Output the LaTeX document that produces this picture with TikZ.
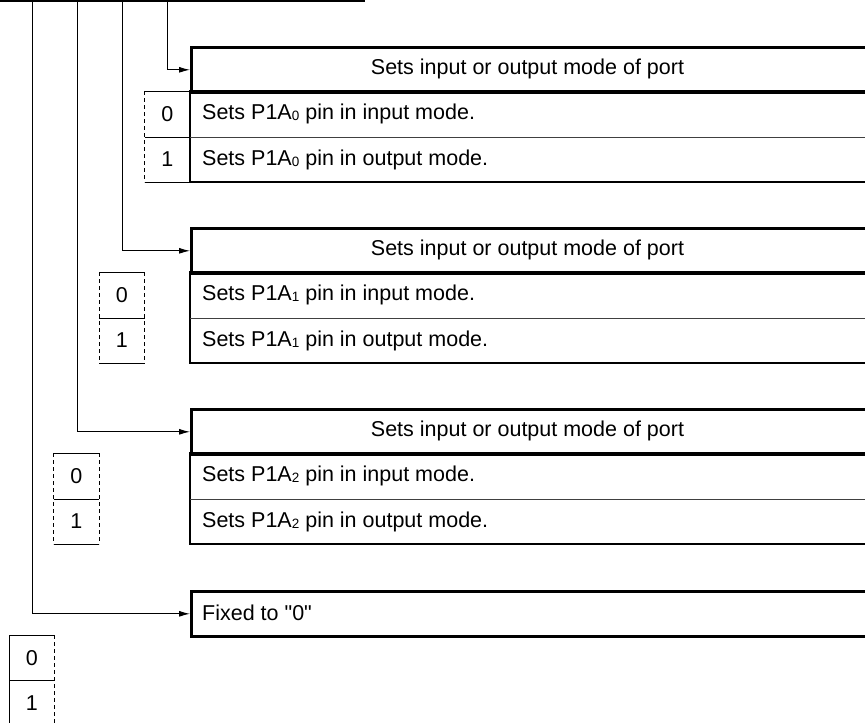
\documentclass[tikz,border=0pt]{standalone}
\usepackage{fontspec}
\setmainfont{Liberation Sans}
\usetikzlibrary{arrows.meta}

% subindice del pin
\newcommand\pinsub[1]{\raisebox{-1pt}{\fontsize{13.5}{13.5}\selectfont #1}}

\tikzset{
  frame/.style={line width=2.6pt},
  sepline/.style={line width=0.9pt,black!75},
  bitline/.style={line width=1pt},
  bitdash/.style={line width=1pt,dash pattern=on 4pt off 3pt},
  conn/.style={line width=1pt,-{Latex[length=11pt,width=6pt]}},
  txt/.style={inner sep=0pt,font=\fontsize{21.5}{25}\selectfont},
}

\begin{document}
\begin{tikzpicture}[x=1pt,y=-1pt]
\useasboundingbox (0,0) rectangle (865,723);

% Linea superior
\draw[line width=4pt] (0,0) -- (365,0);

% Tres bits de modo
\foreach \k/\vx/\ty/\bx in {0/167/46/144.5, 1/122/227/99, 2/77/408/53.5} {
    \pgfmathsetmacro{\ya}{\ty+45}
    \pgfmathsetmacro{\yb}{\ty+91}
    \pgfmathsetmacro{\yc}{\ty+136}
    \pgfmathsetmacro{\ra}{\ty+68}
    \pgfmathsetmacro{\rb}{\ty+113.5}
    \pgfmathsetmacro{\hc}{\ty+22.5}
    \pgfmathsetmacro{\bc}{\bx+22.75}
    \pgfmathsetmacro{\bd}{\bx+45.5}

    % Cabecera y filas
    \node[draw,frame,anchor=north west,minimum width=720pt,minimum height=45pt] (h\k) at (190,\ty) {};
    \node[txt] (t\k) at (527.5,\hc) {Sets input or output mode of port};
    \draw[frame] (190,\ya) rectangle (910,\yc);
    \draw[sepline] (190,\yb) -- (910,\yb);
    \node[txt,anchor=west] (r\k a) at (202,\ra) {Sets P1A\pinsub{\k} pin in input mode.};
    \node[txt,anchor=west] (r\k b) at (202,\rb) {Sets P1A\pinsub{\k} pin in output mode.};

    % Casilla del bit
    \draw[bitline] (\bx,\ya) -- (\bd,\ya);
    \draw[bitline] (\bx,\yb) -- (\bd,\yb);
    \draw[bitline] (\bx,\yc) -- (\bd,\yc);
    \draw[bitdash] (\bx,\ya) -- (\bx,\yc);
    \ifnum\k>0
      \draw[bitdash] (\bd,\ya) -- (\bd,\yc);
    \fi
    \node[txt] (z\k) at (\bc,\ra) {0};
    \node[txt] (o\k) at (\bc,\rb) {1};

    % Flecha
    \coordinate (v\k) at (\vx,0);
    \draw[conn] (v\k) |- (h\k.west);
}

% Bit fijo
\node[draw,frame,anchor=north west,minimum width=720pt,minimum height=45pt] (h3) at (190,590) {};
\node[txt,anchor=west] (t3) at (202,612.5) {Fixed to \textquotedbl 0\textquotedbl};
\coordinate (v3) at (32,0);
\draw[conn] (v3) |- (h3.west);

\draw[bitline] (9,726) -- (9,635) -- (54.5,635);
\draw[bitline] (9,680.5) -- (54.5,680.5);
\draw[bitdash] (54.5,635) -- (54.5,726);
\node[txt] (z3) at (31.75,658) {0};
\node[txt] (o3) at (31.75,703.5) {1};
\end{tikzpicture}
\end{document}
